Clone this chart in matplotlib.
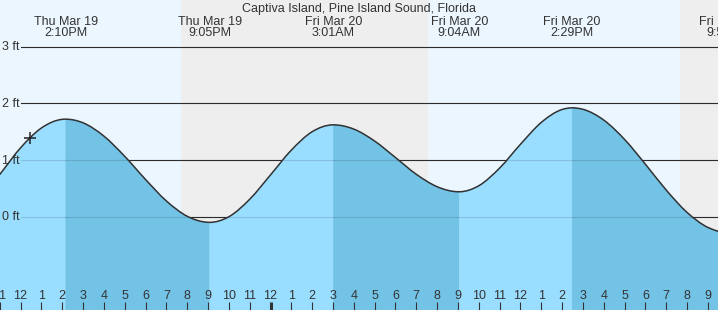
import matplotlib
matplotlib.use("Agg")
import matplotlib.pyplot as plt
import matplotlib.transforms as mtransforms
from matplotlib.path import Path
from matplotlib.patches import PathPatch

W, H, DPI = 718, 310, 100
plt.rcParams['font.family'] = ['Liberation Sans', 'DejaVu Sans']

title = "Captiva Island, Pine Island Sound, Florida"

# hours relative to Fri Mar 20 00:00, tide height in feet
curve_hours = [-13, -12, -11, -10, -9.833, -9, -8, -7, -6, -5, -4, -3, -2.917,
               -2, -1, 0, 1, 2, 3, 3.017, 4, 5, 6, 7, 8, 9, 9.067,
               10, 11, 12, 13, 14, 14.483, 15, 16, 17, 18, 19, 20, 21, 21.5]
curve_feet = [0.743, 1.214, 1.564, 1.717, 1.72, 1.656, 1.422, 1.065, 0.657, 0.278, 0.008, -0.099, -0.10,
              -0.001, 0.307, 0.737, 1.174, 1.499, 1.62, 1.62, 1.545, 1.334, 1.043, 0.748, 0.529, 0.440, 0.44,
              0.546, 0.858, 1.277, 1.663, 1.891, 1.92, 1.894, 1.704, 1.362, 0.925, 0.469, 0.075, -0.190, -0.259]

extreme_hours = [-9.833, -2.917, 3.017, 9.067, 14.483, 21.97]
extreme_days = ["Thu Mar 19", "Thu Mar 19", "Fri Mar 20", "Fri Mar 20", "Fri Mar 20", "Fri Mar 20"]
extreme_times = ["2:10PM", "9:05PM", "3:01AM", "9:04AM", "2:29PM", "9:58PM"]

night_starts = [-4.30, 19.66]
night_ends = [7.56, 30.0]

now_hour = -11.545
now_feet = 1.395

grid_feet = [0, 1, 2, 3]
grid_labels = ["0 ft", "1 ft", "2 ft", "3 ft"]

hour_ticks = list(range(-13, 22))
hour_labels = ["11", "12", "1", "2", "3", "4", "5", "6", "7", "8", "9", "10", "11",
               "12", "1", "2", "3", "4", "5", "6", "7", "8", "9", "10", "11",
               "12", "1", "2", "3", "4", "5", "6", "7", "8", "9"]

# colours
DAY = '#ecf6ff'
NIGHT = '#eeeeee'
RISE = '#99ddff'
FALL = '#73c3e6'
INK = '#333333'

# pixel geometry
px_per_hour = 20.83
midnight_px = 270.5
px_per_ft = 56.7
zero_px = 216.7  # from top

x_left = -midnight_px / px_per_hour
x_right = (W - midnight_px) / px_per_hour
y_top = zero_px / px_per_ft
y_bottom = -(H - zero_px) / px_per_ft

fig = plt.figure(figsize=(W / DPI, H / DPI), dpi=DPI, facecolor=DAY)
ax = fig.add_axes([0, 0, 1, 1])
ax.set_xlim(x_left, x_right)
ax.set_ylim(y_bottom, y_top)
ax.axis('off')

ax.axvspan(x_left, x_right, color=DAY, lw=0, zorder=0)
for s, e in zip(night_starts, night_ends):
    ax.axvspan(s, e, color=NIGHT, lw=0, zorder=0)

gx0 = 21 / W
for g in grid_feet:
    ax.axhline(g, xmin=gx0, xmax=1, color=INK, lw=0.8, zorder=1)
    ax.axhline(g, xmin=gx0, xmax=1, color='black', alpha=0.13, lw=0.8, zorder=3)

# smooth (Hermite -> cubic Bezier) rendering through the read points
n = len(curve_hours)
slopes = []
for i in range(n):
    if curve_hours[i] in extreme_hours:
        slopes.append(0.0)
    elif i == 0:
        slopes.append((curve_feet[1] - curve_feet[0]) / (curve_hours[1] - curve_hours[0]))
    elif i == n - 1:
        slopes.append((curve_feet[-1] - curve_feet[-2]) / (curve_hours[-1] - curve_hours[-2]))
    else:
        h0 = curve_hours[i] - curve_hours[i - 1]
        h1 = curve_hours[i + 1] - curve_hours[i]
        d0 = (curve_feet[i] - curve_feet[i - 1]) / h0
        d1 = (curve_feet[i + 1] - curve_feet[i]) / h1
        slopes.append((d0 * h1 + d1 * h0) / (h0 + h1))


def bezier_vertices(a, b):
    verts = [(curve_hours[a], curve_feet[a])]
    codes = [Path.MOVETO]
    for i in range(a, b):
        x0, y0, x1, y1 = curve_hours[i], curve_feet[i], curve_hours[i + 1], curve_feet[i + 1]
        dx = x1 - x0
        verts += [(x0 + dx / 3, y0 + slopes[i] * dx / 3),
                  (x1 - dx / 3, y1 - slopes[i + 1] * dx / 3),
                  (x1, y1)]
        codes += [Path.CURVE4] * 3
    return verts, codes


idx = [0] + [curve_hours.index(h) for h in extreme_hours if h in curve_hours] + [n - 1]
for a, b in zip(idx[:-1], idx[1:]):
    verts, codes = bezier_vertices(a, b)
    verts += [(curve_hours[b], y_bottom - 1), (curve_hours[a], y_bottom - 1), verts[0]]
    codes += [Path.LINETO, Path.LINETO, Path.CLOSEPOLY]
    col = RISE if curve_feet[b] > curve_feet[a] else FALL
    ax.add_patch(PathPatch(Path(verts, codes), facecolor=col, edgecolor=col, lw=0.3, zorder=2))

verts, codes = bezier_vertices(0, n - 1)
ax.add_patch(PathPatch(Path(verts, codes), facecolor='none', edgecolor=INK, lw=1.1, zorder=4))

ax.plot([now_hour], [now_feet], marker='+', ms=9, mew=1.1, color='#222222', zorder=5, ls='none')

fs_txt = 9
bt = mtransforms.blended_transform_factory(ax.transData, ax.transAxes)
ax.text(0.5, 1 - 12 / H, title, transform=ax.transAxes, ha='center', va='baseline',
        fontsize=fs_txt, color=INK, zorder=6)
for h, d, t in zip(extreme_hours, extreme_days, extreme_times):
    ax.text(h, 1 - 25 / H, d, transform=bt, ha='center', va='baseline', fontsize=fs_txt, color=INK, zorder=6)
    ax.text(h, 1 - 36 / H, t, transform=bt, ha='center', va='baseline', fontsize=fs_txt, color=INK, zorder=6)

yt = mtransforms.blended_transform_factory(ax.transAxes, ax.transData)
off = mtransforms.ScaledTranslation(0, -3.5 / DPI, fig.dpi_scale_trans)
for g, lab in zip(grid_feet, grid_labels):
    ax.text(2 / W, g, lab, transform=yt + off, ha='left', va='baseline', fontsize=fs_txt, color=INK, zorder=6)

for h, lab in zip(hour_ticks, hour_labels):
    ax.text(h, 11 / H, lab, transform=bt, ha='center', va='baseline', fontsize=fs_txt, color=INK, zorder=6)
    lw = 2.2 if lab == "12" and h == 0 else 0.8
    ax.plot([h, h], [0, 8 / H], transform=bt, color=INK, lw=lw, zorder=6, solid_capstyle='butt')

fig.savefig('out.png', dpi=DPI, facecolor=DAY)
